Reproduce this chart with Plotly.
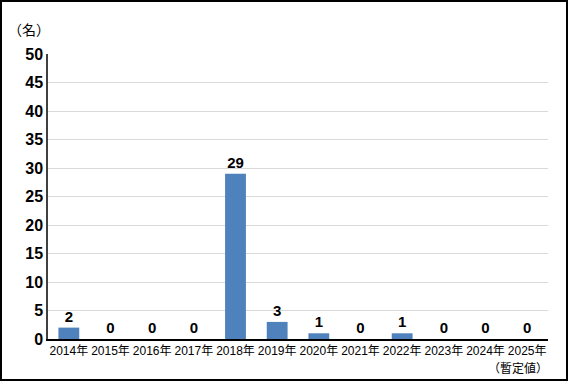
import plotly.graph_objects as go

years = ["2014年", "2015年", "2016年", "2017年", "2018年", "2019年",
         "2020年", "2021年", "2022年", "2023年", "2024年", "2025年"]
counts = [2, 0, 0, 0, 29, 3, 1, 0, 1, 0, 0, 0]
y_ticks = [0, 5, 10, 15, 20, 25, 30, 35, 40, 45, 50]

FONT = "Liberation Sans, Arial, Noto Sans CJK JP, sans-serif"

W, H = 568, 381
L, R, T, B = 48, 20, 54, 42
pw, ph = W - L - R, H - T - B

fig = go.Figure(go.Bar(
    x=years, y=counts,
    marker=dict(color="#4f81bd", line=dict(width=0)),
    width=0.5,
    text=[str(c) for c in counts],
    textposition="outside",
    textfont=dict(family=FONT, size=15, color="#000000", weight="bold"),
    cliponaxis=False,
))

fig.update_layout(
    width=W, height=H,
    margin=dict(l=L, r=R, t=T, b=B),
    paper_bgcolor="white", plot_bgcolor="white",
    showlegend=False,
    font=dict(family=FONT, color="#000000"),
    bargap=0.5,
    xaxis=dict(
        showline=True, linecolor="#000000", linewidth=1.5,
        ticks="", tickfont=dict(size=12, family=FONT),
        showgrid=False,
    ),
    yaxis=dict(
        range=[0, 50], tickvals=y_ticks,
        showline=True, linecolor="#404040", linewidth=1.5,
        showgrid=True, gridcolor="#d9d9d9", gridwidth=1,
        zeroline=False,
        tickfont=dict(size=16, family=FONT, weight="bold"),
        ticks="", ticklen=0,
    ),
    annotations=[
        dict(text="（名）", xref="paper", yref="paper",
             x=(6 - L) / pw, y=(H - B - 30) / ph, xanchor="left", yanchor="middle",
             showarrow=False, font=dict(size=14, family=FONT)),
        dict(text="（暫定値）", xref="paper", yref="paper",
             x=(550 - L) / pw, y=(H - B - 369) / ph, xanchor="right", yanchor="middle",
             showarrow=False, font=dict(size=12, family=FONT)),
    ],
    shapes=[
        dict(type="rect", xref="paper", yref="paper",
             x0=(1 - L) / pw, x1=(W - 1 - L) / pw,
             y0=(H - B - (H - 1)) / ph, y1=(H - B - 1) / ph,
             line=dict(color="#000000", width=2), fillcolor="rgba(0,0,0,0)"),
    ],
)

fig.write_html(
    "out.html",
    config={"displayModeBar": False},
    post_script="document.body.style.margin='0';document.body.style.overflow='hidden';",
)
